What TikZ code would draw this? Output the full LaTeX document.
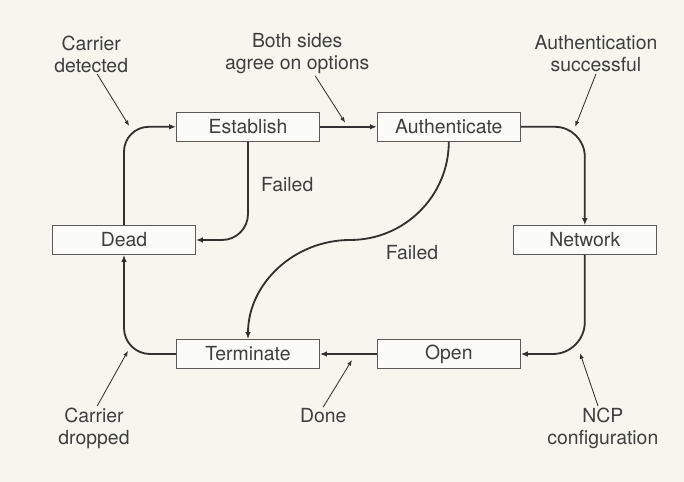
\documentclass[tikz,border=0pt]{standalone}
\usepackage{fontspec}
\setmainfont{TeX Gyre Heros}
\usetikzlibrary{arrows.meta}
\definecolor{paper}{RGB}{246,246,238}
\definecolor{ink}{RGB}{52,48,48}
\definecolor{textgray}{RGB}{62,62,62}
\tikzset{
	state/.style={draw=ink!80,line width=0.6pt,fill=white!60!paper,minimum width=3.575cm,minimum height=0.725cm,inner sep=0pt,text=textgray},
	trans/.style={draw=ink,line width=1.3pt,-{Latex[length=5pt,width=4pt]}},
	note/.style={align=center,text=textgray,inner sep=1pt},
	pointer/.style={draw=ink,line width=0.6pt,-{Latex[length=4pt,width=3pt]}}
}
\begin{document}
\begin{tikzpicture}[font=\fontsize{13.8}{15.6}\selectfont]
	\fill[paper] (0,0) rectangle (17.1,12.05);
	\useasboundingbox (0,0) rectangle (17.1,12.05);
	% states
	\node[state] at (6.2,8.88) (est) {Establish};
	\node[state] at (11.22,8.88) (auth) {Authenticate};
	\node[state] at (3.1,6.05) (dead) {Dead};
	\node[state] at (14.62,6.05) (net) {Network};
	\node[state] at (6.2,3.2) (term) {Terminate};
	\node[state] at (11.22,3.2) (open) {Open};
	% labels
	\node[note] at (2.28,10.7) (cd) {Carrier\\detected};
	\node[note] at (7.43,10.7) (bs) {Both sides\\agree on options};
	\node[note] at (14.9,10.7) (as) {Authentication\\successful};
	\node[note] at (7.18,7.43) (f1) {Failed};
	\node[note] at (10.3,5.73) (f2) {Failed};
	\node[note] at (2.35,1.35) (cr) {Carrier\\dropped};
	\node[note] at (8.08,1.65) (dn) {Done};
	\node[note] at (15.07,1.35) (nc) {NCP\\configuration};
	% transitions
	\draw[trans,rounded corners=0.62cm] (dead.north) |- (est.west);
	\draw[trans] (est.east) -- (auth.west);
	\draw[trans,rounded corners=0.75cm] (auth.east) -| (net.north);
	\draw[trans,rounded corners=0.8cm] (net.south) |- (open.east);
	\draw[trans] (open.west) -- (term.east);
	\draw[trans,rounded corners=0.65cm] (term.west) -| (dead.south);
	\draw[trans,rounded corners=0.65cm] (est.south) |- (dead.east);
	\coordinate (mid) at (8.75,6.05);
	\draw[trans] (auth.south) to[out=-90,in=0] (mid) to[out=180,in=90] (term.north);
	% pointers
	\coordinate (cdp) at (3.23,8.9);
	\coordinate (bsp) at (8.63,8.98);
	\coordinate (asp) at (14.38,8.88);
	\coordinate (crp) at (3.2,3.28);
	\coordinate (dnp) at (8.8,3.05);
	\coordinate (ncp) at (14.5,3.22);
	\draw[pointer] ([xshift=0.15cm]cd.south) -- (cdp);
	\draw[pointer] ([xshift=0.45cm]bs.south) -- (bsp);
	\draw[pointer] (as.south) -- (asp);
	\draw[pointer] ([xshift=0.08cm]cr.north) -- (crp);
	\draw[pointer] (dn.north) -- (dnp);
	\draw[pointer] ([xshift=-0.12cm]nc.north) -- (ncp);
\end{tikzpicture}
\end{document}
